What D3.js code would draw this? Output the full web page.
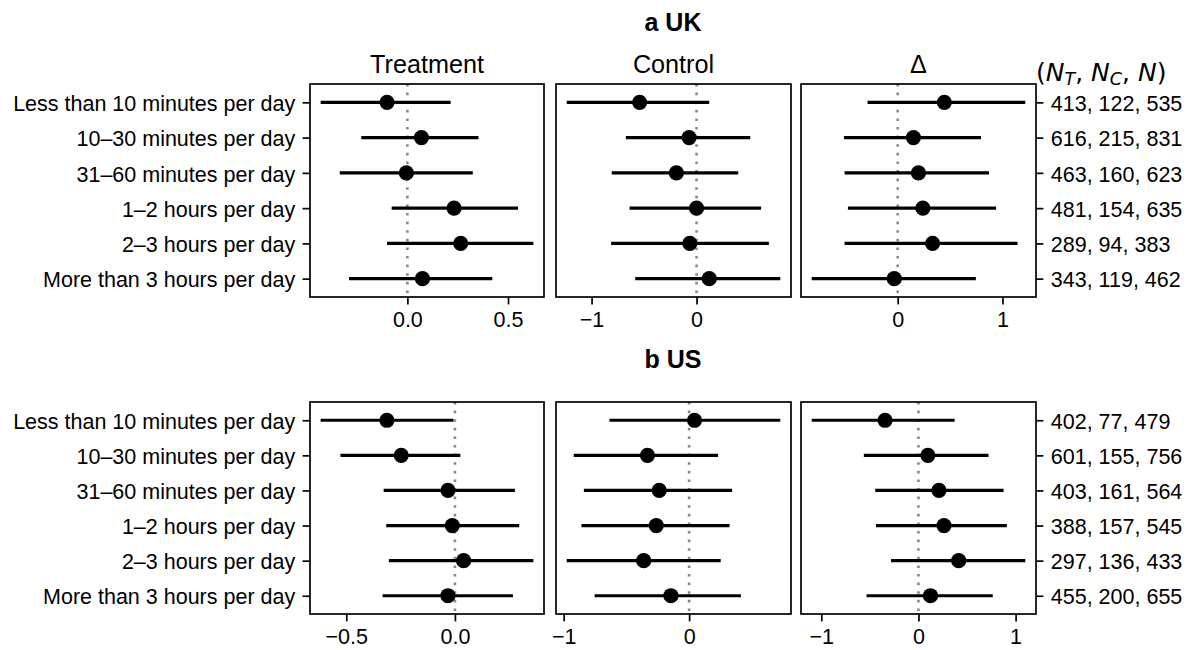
<!DOCTYPE html>
<html>
<head>
	<meta charset="utf-8">
	<script src="https://cdn.jsdelivr.net/npm/d3@7"></script>
	<style type="text/css">
		body { margin: 0; background: #fff; }
		text { font-family: "Liberation Sans", Arial, sans-serif; fill: #000; }
		.frame { stroke: #000; stroke-width: 1.7px; fill: none; }
		.tick line { stroke: #000; stroke-width: 1.7px; }
		.ci { stroke: #000; stroke-width: 3.2px; }
		.zero { stroke: #888; stroke-width: 2.6px; stroke-dasharray: 2.6, 6; }
	</style>
</head>
<body>
<script type="text/javascript">

var width = 1195,
	height = 650;

var categories = [
	"Less than 10 minutes per day",
	"10\u201330 minutes per day",
	"31\u201360 minutes per day",
	"1\u20132 hours per day",
	"2\u20133 hours per day",
	"More than 3 hours per day"
];

var columns = ["Treatment", "Control", "\u0394"];

// [low, estimate, high] per category
var ukTreatment = [[-0.431, -0.101, 0.215], [-0.229, 0.070, 0.353], [-0.336, -0.005, 0.325],
	[-0.078, 0.232, 0.550], [-0.101, 0.265, 0.626], [-0.290, 0.075, 0.422]];
var ukControl = [[-1.237, -0.542, 0.121], [-0.673, -0.071, 0.512], [-0.808, -0.192, 0.397],
	[-0.638, 0.000, 0.615], [-0.814, -0.064, 0.689], [-0.584, 0.121, 0.798]];
var ukDelta = [[-0.288, 0.445, 1.218], [-0.513, 0.150, 0.795], [-0.507, 0.198, 0.872],
	[-0.475, 0.240, 0.939], [-0.507, 0.333, 1.144], [-0.821, -0.033, 0.746]];

var usTreatment = [[-0.618, -0.313, -0.007], [-0.527, -0.247, 0.025], [-0.328, -0.032, 0.276],
	[-0.316, -0.012, 0.296], [-0.304, 0.040, 0.361], [-0.333, -0.032, 0.267]];
var usControl = [[-0.635, 0.043, 0.727], [-0.920, -0.332, 0.231], [-0.839, -0.238, 0.343],
	[-0.858, -0.262, 0.322], [-0.976, -0.362, 0.252], [-0.753, -0.145, 0.413]];
var usDelta = [[-1.099, -0.344, 0.372], [-0.562, 0.097, 0.721], [-0.445, 0.211, 0.876],
	[-0.437, 0.263, 0.910], [-0.282, 0.414, 1.100], [-0.534, 0.124, 0.765]];

var ukCounts = ["413, 122, 535", "616, 215, 831", "463, 160, 623",
	"481, 154, 635", "289, 94, 383", "343, 119, 462"];
var usCounts = ["402, 77, 479", "601, 155, 756", "403, 161, 564",
	"388, 157, 545", "297, 136, 433", "455, 200, 655"];

var ukTicks = [[0, 0.5], [-1, 0], [0, 1]];
var usTicks = [[-0.5, 0], [-1, 0], [-1, 0, 1]];
var ukFormats = [".1f", "d", "d"];
var usFormats = [".1f", "d", "d"];

var panelX = [[310, 544], [556, 791], [801, 1036]],
	tickLen = 7.4,
	tickPad = 7.4,
	fontSize = 21.5,
	dotR = 7.6;

var svg = d3.select("body").append("svg")
	.attr("width", width)
	.attr("height", height);

drawBlock("a UK", 22, 84, 297, [ukTreatment, ukControl, ukDelta], ukTicks, ukFormats, ukCounts, true);
drawBlock("b US", 359, 402, 614, [usTreatment, usControl, usDelta], usTicks, usFormats, usCounts, false);

function drawBlock(title, titleY, y0, y1, series, ticks, formats, counts, withHeads) {
	var block = svg.append("g");

	block.append("text")
		.attr("x", (panelX[0][0] + panelX[2][1]) / 2)
		.attr("y", titleY)
		.attr("dy", "0.36em")
		.attr("text-anchor", "middle")
		.style("font-size", "25px")
		.style("font-weight", "bold")
		.text(title);

	var y = d3.scalePoint()
		.domain(categories)
		.range([y0, y1])
		.padding(0.52);

	series.forEach(function(rows, i) {
		var x0 = panelX[i][0], x1 = panelX[i][1];
		var lo = d3.min(rows, function(d) { return d[0]; }),
			hi = d3.max(rows, function(d) { return d[2]; }),
			pad = (hi - lo) * 0.05;
		var x = d3.scaleLinear().domain([lo - pad, hi + pad]).range([x0, x1]);

		var g = block.append("g");

		if (withHeads) {
			g.append("text")
				.attr("x", (x0 + x1) / 2)
				.attr("y", 72.5)
				.attr("text-anchor", "middle")
				.style("font-size", "25.2px")
				.text(columns[i]);
		}

		g.append("line")
			.attr("class", "zero")
			.attr("x1", x(0)).attr("x2", x(0))
			.attr("y1", y0).attr("y2", y1);

		g.selectAll("line.ci")
			.data(rows)
		  .enter().append("line")
			.attr("class", "ci")
			.attr("x1", function(d) { return x(d[0]); })
			.attr("x2", function(d) { return x(d[2]); })
			.attr("y1", function(d, j) { return y(categories[j]); })
			.attr("y2", function(d, j) { return y(categories[j]); });

		g.selectAll("circle")
			.data(rows)
		  .enter().append("circle")
			.attr("cx", function(d) { return x(d[1]); })
			.attr("cy", function(d, j) { return y(categories[j]); })
			.attr("r", dotR)
			.attr("fill", "#000");

		var xAxis = g.append("g")
			.attr("transform", "translate(0," + y1 + ")")
			.call(d3.axisBottom(x).tickValues(ticks[i]).tickFormat(d3.format(formats[i]))
				.tickSizeInner(tickLen).tickSizeOuter(0).tickPadding(tickPad));
		xAxis.select(".domain").remove();
		xAxis.selectAll("text")
			.attr("fill", "#000")
			.style("font-size", fontSize + "px")
			.style("font-family", "'Liberation Sans', Arial, sans-serif");

		if (i === 0) {
			var yAxis = g.append("g")
				.attr("transform", "translate(" + x0 + ",0)")
				.call(d3.axisLeft(y).tickSizeInner(tickLen).tickSizeOuter(0).tickPadding(tickPad));
			yAxis.select(".domain").remove();
			yAxis.selectAll("text")
				.attr("fill", "#000")
				.attr("dy", "0.38em")
				.style("font-size", fontSize + "px")
				.style("font-family", "'Liberation Sans', Arial, sans-serif");
		}

		if (i === 2) {
			var countScale = d3.scalePoint().domain(counts).range([y0, y1]).padding(0.52);
			var rAxis = g.append("g")
				.attr("transform", "translate(" + x1 + ",0)")
				.call(d3.axisRight(countScale).tickSizeInner(tickLen).tickSizeOuter(0).tickPadding(tickPad));
			rAxis.select(".domain").remove();
			rAxis.selectAll("text")
				.attr("fill", "#000")
				.attr("dy", "0.38em")
				.style("font-size", fontSize + "px")
				.style("font-family", "'Liberation Sans', Arial, sans-serif");

			if (withHeads) {
				var head = g.append("text")
					.attr("x", x1)
					.attr("y", 80.5)
					.style("font-family", "'DejaVu Sans', sans-serif")
					.style("font-size", "25px");
				head.append("tspan").text("(");
				head.append("tspan").style("font-style", "italic").text("N");
				head.append("tspan").style("font-style", "italic").style("font-size", "17.5px").attr("dy", 4).text("T");
				head.append("tspan").attr("dy", -4).text(", ");
				head.append("tspan").style("font-style", "italic").text("N");
				head.append("tspan").style("font-style", "italic").style("font-size", "17.5px").attr("dy", 4).text("C");
				head.append("tspan").attr("dy", -4).text(", ");
				head.append("tspan").style("font-style", "italic").text("N");
				head.append("tspan").text(")");
			}
		}

		g.append("rect")
			.attr("class", "frame")
			.attr("x", x0).attr("y", y0)
			.attr("width", x1 - x0).attr("height", y1 - y0);
	});
}

</script>
</body>
</html>
